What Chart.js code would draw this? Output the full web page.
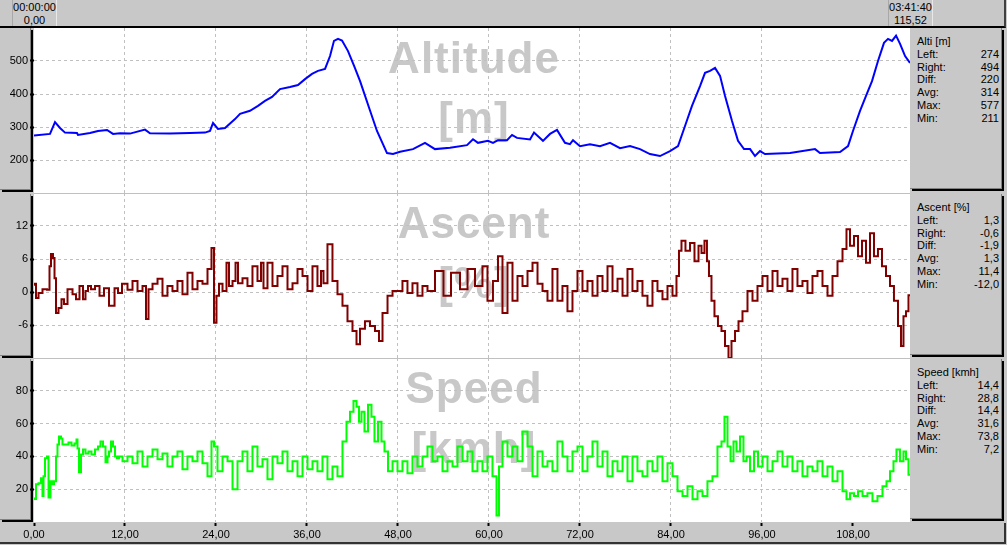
<!DOCTYPE html>
<html>
<head>
<meta charset="utf-8">
<script src="https://cdn.jsdelivr.net/npm/chart.js@4.4.0/dist/chart.umd.min.js"></script>
<style>
body { margin:0; width:1007px; height:545px; background:#c8c8c8; position:relative; overflow:hidden;
       font-family:"Liberation Sans", Arial, sans-serif; font-size:11px; color:#000; }
canvas { position:absolute; left:0; }
.bx { position:absolute; background:#c8c8c8; border-right:1px solid #808080; border-bottom:1px solid #808080; box-shadow:2px 2px 0 #000; }
.haut { position:absolute; left:0; top:0; width:1004px; height:26px; border-bottom:2px solid #000; border-right:2px solid #404040; }
.repere { position:absolute; top:0; height:25px; padding-top:1px; line-height:12.5px; text-align:center; border-left:1px solid #a8a8a8; border-right:1px solid #e8e8e8; }
.axe { position:absolute; left:0; top:523px; width:1004px; height:19px; border-bottom:2px solid #333; border-right:2px solid #333; }
.stat { position:absolute; left:917px; width:82px; line-height:12.8px; }
.stat span { float:right; }
</style>
</head>
<body>
<div class="haut"></div>
<div class="axe"></div>
<script>
var distMax = 115.52;
var debut = ["00:00:00", "0,00"];
var fin   = ["03:41:40", "115,52"];

// Altitude [m]
var altDist = [0, 2.11, 2.77, 3.43, 4.09, 5.67, 5.80, 7.38, 8.44, 9.63, 10.42, 11.34, 12.66, 14.64, 15.30, 17.94, 20.57, 22.55, 23.21, 23.61,
  24.26, 25.19, 26.51, 27.17, 28.48, 29.54, 30.46, 31.39, 32.44, 33.76, 34.81, 35.74, 36.66, 37.45, 38.38, 39.04, 39.56, 40.09, 40.62, 41.41,
  42.21, 43.00, 44.31, 45.23, 46.55, 47.34, 48.27, 49.98, 51.56, 52.88, 54.86, 57.10, 57.89, 58.55, 59.87, 60.53, 61.19, 62.38, 63.04, 63.69,
  65.41, 65.94, 67.12, 68.05, 68.97, 70.02, 70.68, 71.08, 72.00, 73.32, 74.64, 75.96, 77.28, 78.60, 79.92, 81.23, 82.55, 83.87, 84.93, 85.85,
  86.77, 87.83, 88.49, 89.15, 89.81, 90.47, 91.13, 92.05, 92.84, 93.63, 94.43, 95.08, 95.74, 96.40, 99.70, 103.00, 103.65, 106.29, 107.35, 108.00,
  108.93, 109.72, 110.51, 111.30, 112.09, 112.62, 113.15, 113.68, 114.21, 114.87, 115.52];
var altVal = [274, 279, 315, 297, 283, 282, 276, 282, 288, 291, 279, 281, 280, 292, 281, 280, 282, 283, 288, 312,
  294, 297, 324, 340, 349, 364, 379, 391, 415, 421, 427, 445, 461, 470, 476, 515, 561, 567, 562, 530,
  485, 439, 350, 288, 221, 218, 225, 233, 252, 233, 237, 245, 263, 252, 258, 252, 260, 260, 276, 267,
  262, 283, 258, 279, 291, 252, 248, 260, 242, 248, 242, 252, 236, 242, 233, 218, 212, 227, 242, 303,
  364, 424, 464, 470, 479, 455, 394, 318, 258, 233, 233, 212, 227, 218, 221, 233, 221, 224, 242, 288,
  349, 394, 439, 500, 555, 567, 561, 577, 552, 515, 494];

// Ascent [%]
var ascDist = [0, 0.13, 0.40, 0.79, 1.45, 1.98, 2.11, 2.37, 2.64, 2.77, 3.03, 3.43, 3.82, 4.09, 4.75, 5.41, 5.67, 6.33, 6.59, 6.99,
  7.25, 7.78, 8.31, 8.97, 9.49, 10.29, 10.95, 11.21, 12.00, 12.66, 13.32, 13.98, 14.64, 14.90, 15.30, 15.96, 16.62, 17.27, 17.93, 18.59,
  19.25, 19.91, 20.57, 21.23, 21.89, 22.55, 23.21, 23.60, 23.87, 24.26, 24.53, 25.19, 25.58, 25.85, 26.51, 26.64, 27.17, 27.82, 28.48, 29.14,
  29.80, 30.07, 30.46, 31.12, 31.78, 32.44, 33.10, 33.76, 34.42, 35.08, 35.74, 36.40, 37.05, 37.71, 37.98, 38.37, 39.03, 39.69, 40.35, 41.01,
  41.67, 42.33, 42.73, 43.25, 44.04, 44.57, 45.36, 45.63, 46.29, 46.95, 47.61, 48.26, 48.92, 49.58, 50.24, 50.90, 51.56, 52.22, 53.54, 54.46,
  55.52, 56.84, 57.50, 58.81, 59.47, 60.13, 60.92, 61.45, 62.11, 62.77, 63.43, 64.09, 64.75, 65.41, 66.07, 66.73, 67.39, 68.04, 68.70, 69.36,
  70.02, 70.68, 71.34, 72.00, 72.66, 73.32, 73.98, 74.64, 75.30, 75.96, 76.62, 77.28, 77.94, 78.59, 79.25, 79.91, 80.57, 81.23, 81.89, 82.55,
  83.21, 83.87, 84.53, 84.92, 85.19, 85.58, 86.24, 86.77, 87.43, 87.83, 88.22, 88.61, 88.88, 89.14, 89.54, 89.93, 90.46, 90.86, 91.39, 91.78,
  92.18, 92.71, 93.10, 93.76, 94.42, 95.08, 95.74, 96.40, 97.06, 97.72, 98.38, 99.03, 99.69, 100.35, 101.01, 101.67, 102.33, 102.99, 103.65, 104.31,
  104.97, 105.63, 106.29, 106.95, 107.34, 107.87, 108.40, 108.93, 109.45, 109.98, 110.51, 111.03, 111.56, 112.09, 112.62, 113.14, 113.67, 114.20, 114.46, 114.86,
  115.12, 115.52];
var ascVal = [1.3, 1.5, -1.1, -0.2, 0.5, 0.4, 4.7, 6.9, 6.2, 2.5, -3.8, -2.9, -1.3, -2.2, 0.5, -0.4, -1.3, 1.1, -1.3, 0.2,
  1.1, 0.5, 1.1, -0.7, 0.7, -2.5, 0.7, -0.2, 1.5, 0.4, 2.0, 0.2, 1.1, -4.9, 0.5, 1.5, 2.4, -0.7, 1.1, 0.2,
  2.0, -0.4, 3.5, 0.5, 2.0, 1.5, 4.2, 8.0, -5.6, -0.7, 1.5, 0.2, 5.3, 1.1, 2.0, 5.3, 1.6, 2.5, 1.1, 4.7,
  2.0, 5.3, 0.7, 5.3, 1.1, 2.9, 4.7, 0.5, 1.6, 4.2, 2.9, 0.2, 4.7, 1.1, 3.8, 1.6, 8.7, 2.0, -0.4, -2.5,
  -5.3, -7.1, -9.5, -6.7, -5.3, -6.2, -7.1, -8.9, -3.8, -0.7, 0.2, 0.2, 2.0, -0.2, 1.6, -0.7, 1.1, 0.2, 3.8, -0.7,
  3.5, 0.5, 4.2, 1.1, 4.7, -1.6, 2.0, 6.5, -3.8, 5.3, -1.6, 2.9, 1.1, 3.8, 5.3, 1.5, 0.2, -1.6, 4.2, -1.6,
  1.1, -3.5, 0.2, 3.8, 0.2, 2.0, -0.7, 2.9, 0.2, 4.7, 0.2, 2.4, -0.7, 4.2, 0.2, 2.0, -0.7, -2.5, 2.0, 0.2,
  -1.3, 1.1, -0.7, 2.9, 7.5, 9.3, 7.5, 8.9, 5.6, 8.4, 7.1, 9.3, 5.6, 2.9, -1.6, -4.4, -6.2, -7.1, -9.8, -12.0,
  -8.9, -7.1, -5.3, -3.5, 0.2, -1.6, 1.1, 2.9, 0.2, 3.8, 1.1, 2.4, 0.2, 4.2, 1.1, 2.0, -0.2, 2.9, 3.8, 1.1,
  -0.7, 2.9, 5.6, 7.8, 11.4, 8.4, 10.2, 6.5, 9.3, 5.3, 10.7, 6.5, 7.8, 4.7, 2.9, 1.1, -1.6, -6.2, -9.8, -4.4,
  -3.5, -0.6];

// Speed [kmh]
var spdDist = [0, 0.13, 0.40, 0.79, 1.05, 1.19, 1.32, 1.58, 1.85, 1.98, 2.37, 2.51, 2.77, 3.03, 3.16, 3.43, 3.69, 3.82, 4.35, 4.75,
  5.14, 5.54, 5.67, 5.80, 6.07, 6.33, 6.59, 6.99, 7.38, 7.78, 8.31, 8.57, 8.97, 9.23, 9.63, 9.76, 10.02, 10.29, 10.55, 10.81,
  11.08, 11.34, 12.00, 12.66, 13.32, 13.98, 14.64, 15.30, 15.96, 16.62, 17.27, 17.93, 18.59, 19.25, 19.91, 20.57, 21.23, 21.89, 22.55, 23.21,
  23.60, 23.87, 24.53, 25.19, 25.85, 26.51, 27.17, 27.82, 28.48, 29.14, 29.80, 30.46, 31.12, 31.78, 32.44, 33.10, 33.76, 34.42, 35.08, 35.74,
  36.40, 37.05, 37.71, 38.37, 39.03, 39.69, 40.35, 41.01, 41.41, 41.93, 42.33, 42.73, 42.99, 43.38, 43.78, 44.31, 44.70, 45.10, 45.63, 46.02,
  46.42, 46.95, 47.61, 48.26, 48.92, 49.58, 50.24, 50.90, 51.56, 52.22, 52.88, 53.54, 54.20, 54.86, 55.52, 56.18, 56.84, 57.50, 58.15, 58.81,
  59.47, 60.13, 60.79, 61.19, 61.45, 62.11, 62.77, 63.43, 64.09, 64.75, 65.41, 66.07, 66.73, 67.39, 68.04, 68.70, 69.36, 70.02, 70.68, 71.34,
  72.00, 72.66, 73.32, 73.98, 74.64, 75.30, 75.96, 76.62, 77.28, 77.94, 78.59, 79.25, 79.91, 80.57, 81.23, 81.89, 82.55, 83.21, 83.87, 84.53,
  85.19, 85.85, 86.51, 87.17, 87.83, 88.48, 89.14, 89.80, 90.46, 90.86, 91.25, 91.66, 92.05, 92.44, 92.84, 93.36, 93.76, 94.16, 94.68, 95.21,
  95.74, 96.40, 97.06, 97.72, 98.38, 99.03, 99.69, 100.35, 101.01, 101.67, 102.33, 102.99, 103.65, 104.31, 104.97, 105.63, 106.29, 106.95, 107.34, 107.87,
  108.40, 108.93, 109.58, 110.24, 110.90, 111.56, 112.22, 112.62, 113.14, 113.54, 113.93, 114.46, 114.86, 115.12, 115.52];
var spdVal = [14.4, 14.0, 23.0, 23.6, 26.7, 15.8, 27.9, 38.8, 40.0, 15.0, 24.8, 23.0, 24.8, 40.0, 47.3, 52.1, 50.9, 47.3, 47.3, 48.5,
  46.7, 47.9, 50.3, 44.8, 30.3, 41.2, 44.2, 41.8, 43.0, 41.2, 44.2, 46.1, 49.1, 46.1, 36.4, 40.0, 43.0, 49.1, 46.1, 40.0,
  38.8, 40.0, 37.0, 40.0, 35.8, 43.0, 33.9, 40.0, 44.2, 38.2, 41.8, 33.9, 40.0, 43.0, 32.1, 40.0, 37.0, 43.0, 35.8, 27.9,
  49.1, 46.1, 30.9, 40.0, 37.0, 20.0, 37.0, 43.0, 30.9, 46.1, 33.9, 38.2, 26.1, 40.0, 35.8, 43.0, 30.9, 37.0, 27.9, 40.0,
  32.1, 37.0, 30.9, 40.0, 26.1, 33.9, 27.9, 49.1, 61.2, 67.3, 73.8, 70.3, 61.2, 67.3, 55.2, 71.5, 64.2, 49.1, 61.2, 49.1,
  43.0, 30.9, 37.0, 30.9, 37.0, 29.7, 40.0, 33.9, 40.0, 46.1, 37.0, 40.0, 30.9, 37.0, 33.9, 46.1, 37.0, 43.0, 30.9, 37.0,
  30.9, 40.0, 27.9, 4.0, 33.9, 49.1, 40.0, 46.1, 37.0, 55.2, 46.1, 27.9, 43.0, 33.9, 37.0, 30.9, 49.1, 40.0, 30.9, 43.0,
  46.1, 30.9, 40.0, 49.1, 33.9, 43.0, 27.9, 37.0, 30.9, 40.0, 24.8, 40.0, 30.9, 27.9, 37.0, 30.9, 40.0, 24.8, 35.8, 27.9,
  18.8, 15.8, 21.8, 13.9, 18.8, 15.8, 24.8, 27.9, 46.1, 49.1, 64.2, 46.1, 37.0, 49.1, 43.0, 52.1, 37.0, 40.0, 30.9, 43.0,
  33.9, 40.0, 30.9, 37.0, 43.0, 33.9, 40.0, 30.9, 37.0, 27.9, 33.9, 30.9, 37.0, 27.9, 33.9, 24.8, 30.9, 18.8, 13.9, 17.6,
  15.8, 18.8, 15.8, 17.6, 12.7, 15.8, 21.8, 24.8, 30.9, 37.0, 44.2, 37.0, 43.0, 38.2, 28.8];

var statNoms = ["Left:", "Right:", "Diff:", "Avg:", "Max:", "Min:"];
var altStats = ["274", "494", "220", "314", "577", "211"];
var ascStats = ["1,3", "-0,6", "-1,9", "1,3", "11,4", "-12,0"];
var spdStats = ["14,4", "28,8", "14,4", "31,6", "73,8", "7,2"];

var police = "'Liberation Sans', Arial, sans-serif";

var panneaux = [
  { top: 28,  height: 165, titre: ["Altitude", "[m]"], nom: "Alti [m]",    stats: altStats, dist: altDist, val: altVal, couleur: "#0000ff", marches: false,    min: 100, max: 600, pas: 100 },
  { top: 193, height: 165, titre: ["Ascent", "[%]"],   nom: "Ascent [%]",  stats: ascStats, dist: ascDist, val: ascVal, couleur: "#800000", marches: "middle", min: -12, max: 18,  pas: 6 },
  { top: 358, height: 164, titre: ["Speed", "[kmh]"],  nom: "Speed [kmh]", stats: spdStats, dist: spdDist, val: spdVal, couleur: "#00ff00", marches: "middle", min: 0,   max: 100, pas: 20 }
];

// fond blanc, séparateur et grand titre gris derrière la courbe
var fondPlugin = {
  id: "fond",
  beforeDraw: function(chart, args, opts) {
    var a = chart.chartArea, ctx = chart.ctx;
    ctx.save();
    ctx.fillStyle = "#ffffff";
    ctx.fillRect(a.left, a.top, a.right - a.left, a.bottom - a.top);
    if (opts.separateur) {
      ctx.fillStyle = "#c0c0c0";
      ctx.fillRect(a.left, a.top, a.right - a.left, 1);
    }
    ctx.fillStyle = "#c8c8c8";
    ctx.font = "bold 44px " + police;
    ctx.letterSpacing = "1px";
    ctx.textAlign = "center";
    ctx.textBaseline = "alphabetic";
    var cx = (a.left + a.right) / 2 + 2;
    ctx.fillText(opts.titre[0], cx, a.top + 45);
    ctx.fillText(opts.titre[1], cx, a.top + 105);
    ctx.restore();
  }
};

function boite(left, top, width, height) {
  var d = document.createElement("div");
  d.className = "bx";
  d.style.left = left + "px";
  d.style.top = top + "px";
  d.style.width = width + "px";
  d.style.height = height + "px";
  document.body.appendChild(d);
  return d;
}

function repere(left, lignes) {
  var d = document.createElement("div");
  d.className = "repere";
  d.style.left = left + "px";
  d.style.width = "43px";
  d.innerHTML = lignes[0] + "<br>" + lignes[1];
  document.body.appendChild(d);
}

function creerPanneau(p, index) {
  var haut = p.top + (index > 0 ? 1 : 0);
  boite(0, haut, 30, p.height - 4);
  boite(910, haut, 91, p.height - 5);

  var html = "<div>" + p.nom + "</div>";
  statNoms.forEach(function(n, i) {
    html += "<div>" + n + "<span>" + p.stats[i] + "</span></div>";
  });
  var s = document.createElement("div");
  s.className = "stat";
  s.style.top = (haut + 7) + "px";
  s.innerHTML = html;
  document.body.appendChild(s);

  var canvas = document.createElement("canvas");
  canvas.width = 910;
  canvas.height = p.height;
  canvas.style.top = p.top + "px";
  document.body.appendChild(canvas);

  var points = p.dist.map(function(d, i) { return { x: d, y: p.val[i] }; });

  new Chart(canvas, {
    type: "line",
    data: { datasets: [{ data: points, borderColor: p.couleur, borderWidth: 2, pointRadius: 0, tension: 0, stepped: p.marches, fill: false }] },
    options: {
      responsive: false,
      animation: false,
      events: [],
      layout: { padding: 0 },
      plugins: {
        legend: { display: false },
        tooltip: { enabled: false },
        fond: { titre: p.titre, separateur: index > 0 }
      },
      scales: {
        x: {
          type: "linear", min: 0, max: distMax,
          afterBuildTicks: function(sc) {
            sc.ticks = sc.ticks.filter(function(t) { return t.value > 0 && t.value < distMax; });
          },
          ticks: { display: false, stepSize: 12 },
          grid: { color: "#c0c0c0", drawTicks: false },
          border: { display: false, dash: [3, 3] }
        },
        y: {
          min: p.min, max: p.max,
          afterBuildTicks: function(sc) {
            sc.ticks = sc.ticks.filter(function(t) { return t.value > p.min && t.value < p.max; });
          },
          afterFit: function(sc) { sc.width = 34; sc.paddingTop = 0; sc.paddingBottom = 0; },
          ticks: { stepSize: p.pas, color: "#000", padding: 2, font: { family: police, size: 11 } },
          grid: { color: "#c0c0c0", tickColor: "#000", tickLength: 4, tickWidth: 2 },
          border: { display: false, dash: [3, 3] }
        }
      }
    },
    plugins: [fondPlugin]
  });
}

function creerAxe() {
  var canvas = document.createElement("canvas");
  canvas.width = 1007;
  canvas.height = 26;
  canvas.style.top = "519px";
  document.body.appendChild(canvas);
  // 0 à x=34, 120 sous le panneau de droite (même échelle que les courbes)
  var axeMax = distMax * (1007 - 34) / (910 - 34);
  new Chart(canvas, {
    type: "line",
    data: { datasets: [] },
    options: {
      responsive: false,
      animation: false,
      events: [],
      layout: { padding: { left: 34, right: 0, top: 0, bottom: 0 } },
      plugins: { legend: { display: false }, tooltip: { enabled: false } },
      scales: {
        x: {
          type: "linear", min: 0, max: axeMax,
          afterBuildTicks: function(sc) {
            sc.ticks = sc.ticks.filter(function(t) { return t.value <= 120; });
          },
          afterFit: function(sc) { sc.height = 22; sc.paddingLeft = 0; sc.paddingRight = 0; },
          ticks: {
            stepSize: 12, color: "#000", padding: 2, maxRotation: 0, autoSkip: false,
            font: { family: police, size: 11 },
            callback: function(v) { return v.toFixed(2).replace(".", ","); }
          },
          grid: { drawOnChartArea: false, tickColor: "#000", tickLength: 3, tickWidth: 2 },
          border: { display: false }
        },
        y: { display: false }
      }
    }
  });
}

repere(12, debut);
repere(888, fin);
panneaux.forEach(creerPanneau);
creerAxe();
</script>
</body>
</html>
